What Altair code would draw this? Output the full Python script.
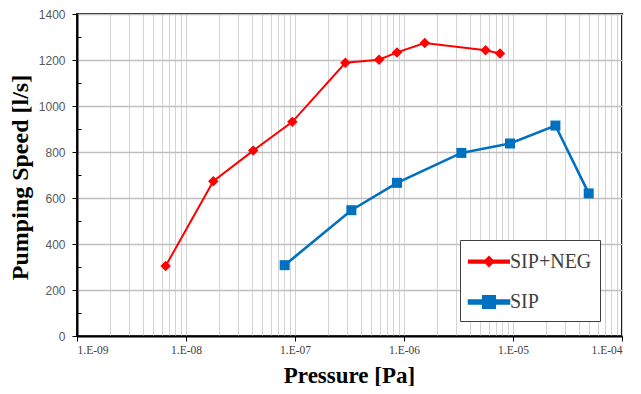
import altair as alt
import pandas as pd

# SIP+NEG series
neg_pressure = [6.5e-9, 1.78e-8, 4.14e-8, 9.46e-8, 2.9e-7, 5.9e-7, 8.63e-7, 1.55e-6, 5.6e-6, 7.6e-6]
neg_speed = [304, 673, 806, 931, 1188, 1201, 1233, 1274, 1242, 1228]

# SIP series
sip_pressure = [8.04e-8, 3.29e-7, 8.63e-7, 3.36e-6, 9.39e-6, 2.45e-5, 4.95e-5]
sip_speed = [308, 547, 666, 796, 837, 915, 620]

series_names = ["SIP+NEG", "SIP"]
series_colors = ["#FF0000", "#0070C0"]
y_ticks = [0, 200, 400, 600, 800, 1000, 1200, 1400]
y_minor = [100, 300, 500, 700, 900, 1100, 1300]
x_decades = [1e-9, 1e-8, 1e-7, 1e-6, 1e-5, 1e-4]

df = pd.DataFrame({
    "pressure": neg_pressure + sip_pressure,
    "speed": neg_speed + sip_speed,
    "series": [series_names[0]] * len(neg_pressure) + [series_names[1]] * len(sip_pressure),
})

x_grid_values = [m * d for d in x_decades[:-1] for m in range(1, 10)] + [x_decades[-1]]

is_decade = "abs(log(datum.value)/LN10 - round(log(datum.value)/LN10)) < 0.01"
x_label_expr = (
    f"{is_decade} ? '1.E-' + (round(-log(datum.value)/LN10) < 10 ? '0' : '') + "
    "round(-log(datum.value)/LN10) : ''"
)

x_axis = alt.Axis(
    values=x_grid_values,
    labelExpr=x_label_expr,
    labelOverlap=False,
    labelFont="Liberation Serif",
    labelFontSize=11.5,
    labelColor="#404040",
    labelPadding=3,
    tickSize=5,
    tickColor="#000000",
    tickOpacity=alt.condition(is_decade, alt.value(1), alt.value(0)),
    grid=True,
    gridColor="#d4d4d4",
    gridWidth=1,
    domainColor="#000000",
    domainWidth=2,
    title="Pressure [Pa]",
    titleFont="Liberation Serif",
    titleFontSize=23,
    titleFontWeight="bold",
    titleColor="#000000",
    titleX=272,
    titleY=46,
    titleBaseline="alphabetic",
)

y_axis = alt.Axis(
    orient="left",
    values=y_ticks,
    format="d",
    labelFont="Liberation Sans",
    labelFontSize=12,
    labelColor="#595959",
    labelPadding=7,
    tickSize=5,
    tickColor="#000000",
    grid=True,
    gridColor="#bfbfbf",
    gridWidth=1.3,
    domainColor="#000000",
    domainWidth=2,
    title="Pumping Speed [l/s]",
    titleFont="Liberation Serif",
    titleFontSize=24,
    titleFontWeight="bold",
    titleColor="#000000",
    titleX=-50,
    titleY=163,
    titleBaseline="alphabetic",
)

x_scale = alt.Scale(type="log", domain=[1e-9, 1e-4], nice=False)
y_scale = alt.Scale(domain=[0, 1400], nice=False)
color_scale = alt.Scale(domain=series_names, range=series_colors)

x_enc = alt.X("pressure:Q", scale=x_scale, axis=x_axis, title="Pressure [Pa]")
y_enc = alt.Y("speed:Q", scale=y_scale, axis=y_axis, title="Pumping Speed [l/s]")
y_noaxis = alt.Y("speed:Q", scale=y_scale, axis=None, title="Pumping Speed [l/s]")

base = alt.Chart(df)

# legend symbols: line segment with marker
legend_paths = [
    "M-1.6,-0.09H1.6V0.09H-1.6Z M0,-0.36L0.36,0L0,0.36L-0.36,0Z",
    "M-1.6,-0.11H1.6V0.11H-1.6Z M-0.46,-0.46H0.46V0.46H-0.46Z",
]

legend_cfg = alt.Legend(
    orient="none",
    legendX=383,
    legendY=226,
    title=None,
    fillColor="#ffffff",
    strokeColor="#404040",
    padding=8,
    symbolSize=625,
    symbolOffset=7,
    symbolStrokeWidth=0,
    symbolOpacity=1,
    labelOffset=7,
    labelFont="Liberation Serif",
    labelFontSize=20,
    labelColor="#404040",
    rowPadding=16,
)

# invisible layer that only carries the legend (color + shape) and the minor y ticks
legend_layer = base.mark_point(filled=True, opacity=0).encode(
    x=x_enc,
    y=alt.Y("speed:Q", scale=y_scale, title=None,
            axis=alt.Axis(orient="left", values=y_minor, tickSize=4, offset=-4,
                          domain=False, labels=False, grid=False, title=None,
                          tickColor="#000000", tickWidth=1)),
    color=alt.Color("series:N", scale=color_scale, legend=legend_cfg),
    shape=alt.Shape("series:N", scale=alt.Scale(domain=series_names, range=legend_paths), legend=legend_cfg),
)

lines = base.mark_line().encode(
    x=x_enc,
    y=y_enc,
    color=alt.Color("series:N", scale=color_scale, legend=None),
    strokeWidth=alt.StrokeWidth("series:N", scale=alt.Scale(domain=series_names, range=[2, 2.6]), legend=None),
)

red_pts = base.transform_filter(alt.datum.series == "SIP+NEG").mark_point(
    shape="diamond", filled=True, size=110, opacity=1
).encode(
    x=x_enc, y=y_noaxis,
    color=alt.Color("series:N", scale=color_scale, legend=None),
)

blue_pts = base.transform_filter(alt.datum.series == "SIP").mark_point(
    shape="square", filled=True, size=100, opacity=1
).encode(
    x=x_enc, y=y_noaxis,
    color=alt.Color("series:N", scale=color_scale, legend=None),
)

chart = alt.layer(legend_layer, lines, red_pts, blue_pts).resolve_axis(
    y="independent"
).properties(
    width=545,
    height=322,
    autosize=alt.AutoSizeParams(type="none"),
    padding={"left": 69, "top": 6, "right": 11, "bottom": 50},
    background="#ffffff",
).configure_view(
    stroke="#1a1a1a",
    strokeWidth=2,
)

chart.save("out.html", embed_options={"renderer": "svg", "actions": False})
